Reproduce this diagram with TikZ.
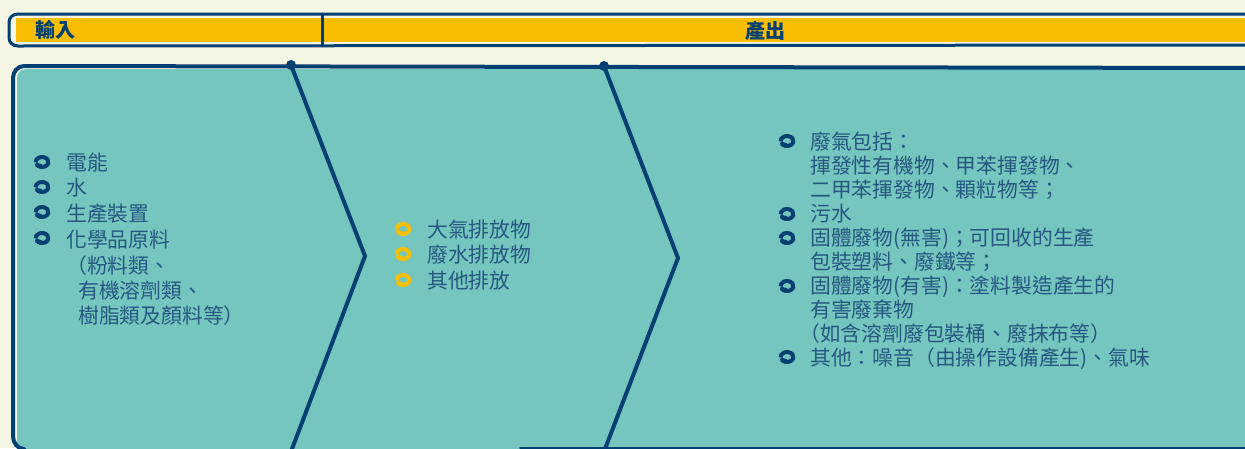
\documentclass[tikz,border=0pt]{standalone}
\usepackage{fontspec}
\setmainfont{Noto Sans CJK TC}
\definecolor{bgc}{RGB}{245,247,228}
\definecolor{yel}{RGB}{249,190,0}
\definecolor{tealc}{RGB}{116,198,190}
\definecolor{navy}{RGB}{0,63,114}
\definecolor{txtc}{RGB}{38,88,130}
\tikzset{
  txt/.style={anchor=base west,inner sep=0pt,text=txtc,font=\fontsize{20.8}{24}\selectfont},
  ttl/.style={anchor=base,inner sep=0pt,text=navy,font=\fontsize{20}{24}\selectfont\bfseries},
  edge/.style={draw=navy,line width=4pt,line join=round,line cap=round},
}
\newcommand{\bul}[3]{% x,y,color
  \draw[#3,line width=4pt] (#1,#2) ++(150:6.4 and 5) arc (150:-185:6.4 and 5);
  \draw[#3,line width=3.4pt,line cap=round] (#1,#2) ++(150:6.4 and 5) -- ++(15:5);
}
\begin{document}
\begin{tikzpicture}[x=1pt,y=-1pt]
\useasboundingbox (0,0) rectangle (1245,448);
\fill[bgc] (0,0) rectangle (1245,448);
% top bar
\draw[edge,fill=bgc,line width=3pt] (1260,14) -- (18,14) to[out=180,in=90] (9,22) -- (9,38) to[out=-90,in=180] (18,46) -- (1260,45);
\fill[yel] (16,17.5) rectangle (1260,42);
\draw[edge,line width=3pt] (322,14) -- (322,45);
\node[ttl,anchor=base west] (in) at (35,37.5) {輸入};
\node[ttl] (out) at (765,38) {產出};
% main box
\fill[tealc] (1260,69) -- (26,69) to[out=180,in=90] (17,78) -- (17,452) -- (1260,452) -- cycle;
\draw[edge] (1260,68) -- (24,66) to[out=180,in=90] (13,78) -- (13,436) to[out=-90,in=180] (24,449);
\draw[edge,line width=2pt] (520,447.5) -- (1260,447.5);
% chevrons
\coordinate (c1t) at (291,65);
\coordinate (c1m) at (365,256);
\coordinate (c1b) at (292,449);
\coordinate (c2t) at (604,66);
\coordinate (c2m) at (678,258);
\coordinate (c2b) at (605,449);
\draw[edge] (c1t) -- (c1m) -- (c1b);
\draw[edge] (c2t) -- (c2m) -- (c2b);
\fill[navy] (c1t) circle (5);
\fill[navy] (c2t) circle (5);
% left list
\bul{42}{162}{navy}
\bul{42}{187}{navy}
\bul{42}{212}{navy}
\bul{42}{238}{navy}
\node[txt] (a1) at (66,170) {電能};
\node[txt] (a2) at (66,195) {水};
\node[txt] (a3) at (66,221) {生產裝置};
\node[txt] (a4) at (66,247) {化學品原料};
\node[txt] (a5) at (66,273) {（粉料類、};
\node[txt] (a6) at (78,298) {有機溶劑類、};
\node[txt] (a7) at (78,323) {樹脂類及顏料等）};
% middle list
\bul{403}{229}{yel}
\bul{403}{254}{yel}
\bul{403}{280}{yel}
\node[txt] (b1) at (427,237) {大氣排放物};
\node[txt] (b2) at (427,262) {廢水排放物};
\node[txt] (b3) at (427,288) {其他排放};
% right list
\bul{787}{141}{navy}
\bul{787}{214}{navy}
\bul{787}{238}{navy}
\bul{787}{286}{navy}
\bul{787}{357}{navy}
\node[txt] (r1) at (810,149) {廢氣包括：};
\node[txt] (r2) at (810,173) {揮發性有機物、甲苯揮發物、};
\node[txt] (r3) at (810,197) {二甲苯揮發物、顆粒物等；};
\node[txt] (r4) at (810,221.5) {污水};
\node[txt] (r5) at (810,245.5) {固體廢物(無害)；可回收的生產};
\node[txt] (r6) at (810,269.5) {包裝塑料、廢鐵等；};
\node[txt] (r7) at (810,293.5) {固體廢物(有害)：塗料製造產生的};
\node[txt] (r8) at (810,317.5) {有害廢棄物};
\node[txt] (r9) at (799,341.5) {（如含溶劑廢包裝桶、廢抹布等）};
\node[txt] (r10) at (810,365.5) {其他：噪音（由操作設備產生)、氣味};
\end{tikzpicture}
\end{document}
